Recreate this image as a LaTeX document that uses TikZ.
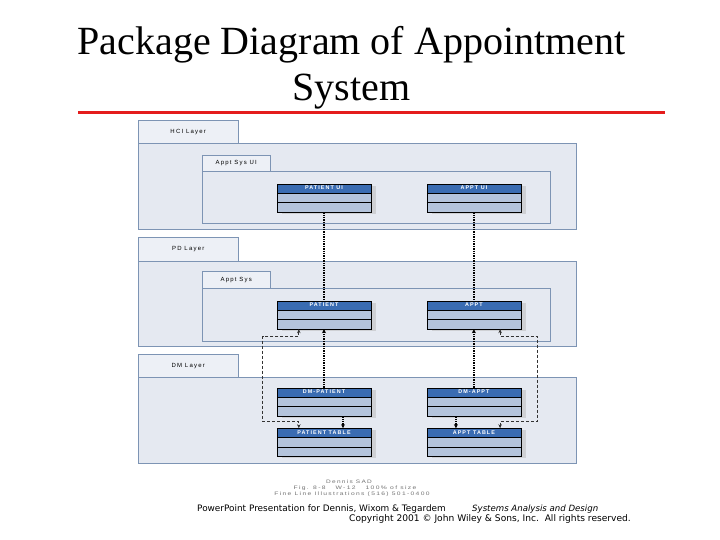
\documentclass[tikz,border=0pt]{standalone}
\usepackage{fontspec}
\setmainfont{Liberation Serif}
\newfontfamily\pkgfont[LetterSpace=20]{Liberation Sans}
\newfontfamily\notefont{DejaVu Sans}
\usetikzlibrary{arrows.meta, positioning, calc, shadows}
\definecolor{pkgfill}{RGB}{229,233,241}
\definecolor{tabfill}{RGB}{237,240,246}
\definecolor{pkgline}{RGB}{125,148,180}
\definecolor{headblue}{RGB}{58,108,178}
\definecolor{rowblue}{RGB}{180,196,220}
\definecolor{rulered}{RGB}{228,28,28}

\begin{document}
\begin{tikzpicture}[
      x=1pt, y=-1pt,
      titletext/.style = {anchor=base, inner sep=0pt, font=\fontsize{40}{46}\selectfont},
      pkgtab/.style    = {draw=pkgline, fill=tabfill, anchor=north west, inner sep=0pt,
                          font=\fontsize{6}{7}\pkgfont},
      pkgbody/.style   = {draw=pkgline, fill=pkgfill, anchor=north west, inner sep=0pt},
      headtext/.style  = {anchor=north, inner sep=0pt, yshift=-2pt, text=white,
                          font=\fontsize{5.4}{6}\pkgfont\bfseries},
      classbox/.style  = {draw=black, fill=rowblue, minimum width=94pt, minimum height=28pt,
                          inner sep=0pt,
                          drop shadow={shadow xshift=5pt, shadow yshift=-2pt,
                                       fill=black!30, opacity=.45},
                          path picture={
                            \fill[headblue] (path picture bounding box.north west)
                              rectangle ([yshift=-9pt]path picture bounding box.north east);
                            \draw ([yshift=-9pt]path picture bounding box.north west)
                              -- ([yshift=-9pt]path picture bounding box.north east);
                            \draw ([yshift=-18.5pt]path picture bounding box.north west)
                              -- ([yshift=-18.5pt]path picture bounding box.north east);
                          },
                          label={[headtext]north:#1}},
      dep/.style       = {densely dotted, line width=1.4pt},
      deparrow/.style  = {dep, -{Stealth[length=4pt, width=4pt]}},
      trace/.style     = {dash pattern=on 3pt off 2pt, line width=0.8pt, black!80,
                          {Stealth[length=4pt, width=3.5pt]}-{Stealth[length=4pt, width=3.5pt]}},
      note/.style      = {anchor=base, inner sep=0pt, text=black!55, font=\fontsize{5}{6}\pkgfont},
      footer/.style    = {inner sep=0pt}
    ]
    \useasboundingbox (0,0) rectangle (720,540);
    \fill[white] (0,0) rectangle (720,540);

    % Title
    \node[titletext] (title) at (351.5,55) {Package Diagram of Appointment};
    \node[titletext] (titlesub) at (351.5,101) {System};
    \draw[rulered, line width=3pt] (78,113) -- (665,113);

    % Packages
    \node[pkgtab, minimum width=100pt, minimum height=23pt] (hcitab) at (138,120) {HCI Layer};
    \node[pkgbody, minimum width=438pt, minimum height=86pt] (hci) at (138,143) {};
    \node[pkgtab, minimum width=68pt, minimum height=16.5pt] (uitab) at (202,155) {Appt Sys UI};
    \node[pkgbody, minimum width=348pt, minimum height=52pt] (ui) at (202,171.5) {};

    \node[pkgtab, minimum width=100pt, minimum height=24pt] (pdtab) at (138,237) {PD Layer};
    \node[pkgbody, minimum width=438pt, minimum height=85pt] (pd) at (138,261) {};
    \node[pkgtab, minimum width=68pt, minimum height=17pt] (systab) at (202,271) {Appt Sys};
    \node[pkgbody, minimum width=348pt, minimum height=53pt] (sys) at (202,288) {};

    \node[pkgtab, minimum width=100pt, minimum height=23pt] (dmtab) at (138,354) {DM Layer};
    \node[pkgbody, minimum width=438pt, minimum height=86pt] (dm) at (138,377) {};

    % Classes
    \node[classbox=PATIENT UI] (patui) at (324,198) {};
    \node[classbox=APPT UI, right=55.5pt of patui] (apptui) {};
    \node[classbox=PATIENT] (pat) at (324,315) {};
    \node[classbox=APPT, right=55.5pt of pat] (appt) {};
    \node[classbox=DM-PATIENT] (dmpat) at (324,402) {};
    \node[classbox=DM-APPT, right=55.5pt of dmpat] (dmappt) {};
    \node[classbox=PATIENT TABLE, below=12pt of dmpat] (pattab) {};
    \node[classbox=APPT TABLE, below=12pt of dmappt] (appttab) {};

    % Dependencies
    \draw[dep] (patui.south) -- (pat.north);
    \draw[dep] (apptui.south) -- (appt.north);
    \draw[deparrow] (dmpat.north) -- (pat.south);
    \draw[deparrow] (dmappt.north) -- (appt.south);
    \draw[deparrow] ([xshift=19pt]dmpat.south) -- ([xshift=19pt]pattab.north);
    \draw[deparrow] ([xshift=-18pt]dmappt.south) -- ([xshift=-18pt]appttab.north);
    \draw[trace] ([xshift=22pt]pat.south west) -- ++(0,7) -- ++(-36,0)
      |- ([xshift=22pt, yshift=7pt]pattab.north west) -- ([xshift=22pt]pattab.north west);
    \draw[trace] ([xshift=-21pt]appt.south east) -- ++(0,7) -- ++(37,0)
      |- ([xshift=-21pt, yshift=7pt]appttab.north east) -- ([xshift=-21pt]appttab.north east);

    % Credits
    \node[note] (credit1) at (349,483) {\scalebox{1.3}[1]{Dennis SAD}};
    \node[note] (credit2) at (355,489) {\scalebox{1.35}[1]{Fig. 8-8\quad\ W-12\quad\ 100\% of size}};
    \node[note] (credit3) at (352,495) {\scalebox{1.34}[1]{Fine Line Illustrations (516) 501-0400}};
    \node[footer, anchor=base west, font=\fontsize{8.9}{10}\notefont] (course) at (197,511)
      {PowerPoint Presentation for Dennis, Wixom \& Tegardem};
    \node[footer, anchor=base west, font=\fontsize{8.6}{10}\notefont\itshape] (book) at (472,511)
      {Systems Analysis and Design};
    \node[footer, anchor=base east, font=\fontsize{9.1}{10}\notefont] (copy) at (631,521.5)
      {Copyright 2001 \textcopyright{} John Wiley \& Sons, Inc.\ \ All rights reserved.};

  \end{tikzpicture}
\end{document}
